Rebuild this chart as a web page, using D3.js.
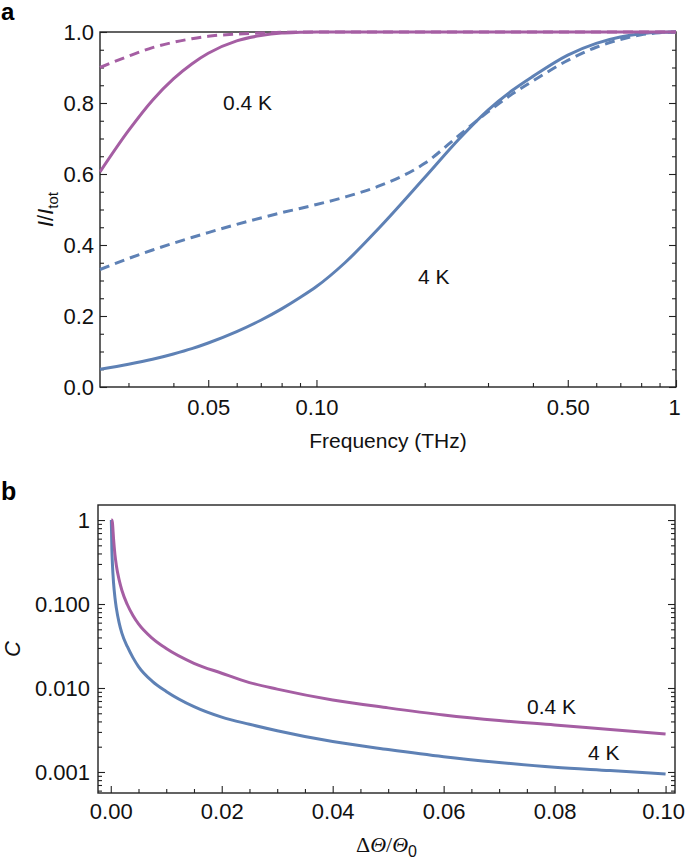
<!DOCTYPE html>
<html>
<head>
<meta charset="utf-8">
<script src="https://cdn.jsdelivr.net/npm/d3@7"></script>
<style>
  body { margin: 0; background: #fff; }
  svg { display: block; font-family: "Liberation Sans", Arial, Helvetica, sans-serif; }
  .tick text { font-size: 22px; fill: #111; }
</style>
</head>
<body>
<svg id="chart" width="685" height="860"></svg>
<script>
// ---------- Panel a data ----------
const freqA      = [0.025, 0.03, 0.035, 0.04, 0.045, 0.05, 0.06, 0.07, 0.08, 0.09, 0.1, 0.12, 0.15, 0.2, 0.25, 0.3, 0.35, 0.4, 0.5, 0.6, 0.7, 0.8, 0.9, 1.0];
const pinkSolid  = [0.606, 0.722, 0.808, 0.868, 0.910, 0.940, 0.975, 0.990, 0.997, 0.999, 1.0, 1.0, 1.0, 1.0, 1.0, 1.0, 1.0, 1.0, 1.0, 1.0, 1.0, 1.0, 1.0, 1.0];
const pinkDashed = [0.900, 0.932, 0.956, 0.971, 0.981, 0.988, 0.994, 0.997, 0.999, 1.0, 1.0, 1.0, 1.0, 1.0, 1.0, 1.0, 1.0, 1.0, 1.0, 1.0, 1.0, 1.0, 1.0, 1.0];
const blueSolid  = [0.050, 0.064, 0.078, 0.093, 0.108, 0.124, 0.156, 0.188, 0.220, 0.252, 0.283, 0.350, 0.450, 0.590, 0.700, 0.780, 0.835, 0.875, 0.935, 0.968, 0.986, 0.995, 0.999, 1.0];
const blueDashed = [0.331, 0.362, 0.386, 0.405, 0.421, 0.435, 0.458, 0.476, 0.491, 0.503, 0.514, 0.535, 0.567, 0.630, 0.710, 0.775, 0.825, 0.862, 0.920, 0.957, 0.979, 0.992, 0.998, 1.0];

const aXMajor = [0.05, 0.1, 0.5, 1];
const aXMajorLabels = ["0.05", "0.10", "0.50", "1"];
const aXMinor = [0.03, 0.04, 0.06, 0.07, 0.08, 0.09, 0.2, 0.3, 0.4, 0.6, 0.7, 0.8, 0.9];
const aYMajor = [0, 0.2, 0.4, 0.6, 0.8, 1.0];
const aYMajorLabels = ["0.0", "0.2", "0.4", "0.6", "0.8", "1.0"];
const aYMinor = [0.05, 0.1, 0.15, 0.25, 0.3, 0.35, 0.45, 0.5, 0.55, 0.65, 0.7, 0.75, 0.85, 0.9, 0.95];

// ---------- Panel b data ----------
const dTheta = [0.0001, 0.0002, 0.0003, 0.0005, 0.00075, 0.001, 0.0015, 0.002, 0.003, 0.004, 0.005, 0.0075, 0.01, 0.015, 0.02, 0.025, 0.03, 0.04, 0.05, 0.06, 0.07, 0.08, 0.09, 0.1];
const c04K = [1.0, 1.0, 0.93, 0.6, 0.39, 0.29, 0.195, 0.146, 0.098, 0.073, 0.058, 0.039, 0.0295, 0.0197, 0.0150, 0.0116, 0.0097, 0.0072, 0.0058, 0.00478, 0.0041, 0.00363, 0.0032, 0.00283];
const c4K  = [1.0, 0.45, 0.30, 0.18, 0.12, 0.09, 0.06, 0.045, 0.031, 0.023, 0.018, 0.012, 0.0091, 0.0060, 0.0045, 0.0037, 0.0031, 0.0023, 0.00185, 0.00152, 0.0013, 0.00114, 0.00104, 0.000946];

const bXMajor = [0, 0.02, 0.04, 0.06, 0.08, 0.1];
const bXMajorLabels = ["0.00", "0.02", "0.04", "0.06", "0.08", "0.10"];
const bXMinor = [0.005, 0.01, 0.015, 0.025, 0.03, 0.035, 0.045, 0.05, 0.055, 0.065, 0.07, 0.075, 0.085, 0.09, 0.095];
const bYMajor = [1, 0.1, 0.01, 0.001];
const bYMajorLabels = ["1", "0.100", "0.010", "0.001"];
const bYMinor = [0.9, 0.8, 0.7, 0.6, 0.5, 0.4, 0.3, 0.2,
                 0.09, 0.08, 0.07, 0.06, 0.05, 0.04, 0.03, 0.02,
                 0.009, 0.008, 0.007, 0.006, 0.005, 0.004, 0.003, 0.002,
                 0.0009, 0.0008, 0.0007, 0.0006];

const PINK = "#a55ea3";
const BLUE = "#5e81b5";
const FRAME = "#222";

const svg = d3.select("#chart");

function drawFrame(g, x0, y0, x1, y1) {
  g.append("rect").attr("x", x0).attr("y", y0).attr("width", x1 - x0).attr("height", y1 - y0)
    .attr("fill", "none").attr("stroke", FRAME).attr("stroke-width", 1.4);
}
function styleAxis(sel) {
  sel.select(".domain").remove();
  sel.selectAll(".tick line").attr("stroke", FRAME).attr("stroke-width", 1.1);
}

// ================= Panel a =================
const A = {left: 100, right: 676, top: 32, bottom: 387};
const xA = d3.scaleLog().domain([0.025, 1]).range([A.left, A.right]);
const yA = d3.scaleLinear().domain([0, 1]).range([A.bottom, A.top]);
const gA = svg.append("g");
drawFrame(gA, A.left, A.top, A.right, A.bottom);

const axA = gA.append("g").attr("transform", `translate(0,${A.bottom})`)
  .call(d3.axisBottom(xA).tickValues(aXMajor).tickFormat((d, i) => aXMajorLabels[i]).tickSize(-7).tickPadding(12))
  .call(styleAxis);
axA.selectAll(".tick text").filter(d => d === 1).attr("dx", -2);
gA.append("g").attr("transform", `translate(0,${A.bottom})`)
  .call(d3.axisBottom(xA).tickValues(aXMinor).tickFormat("").tickSize(-4))
  .call(styleAxis);
gA.append("g").attr("transform", `translate(${A.left},0)`)
  .call(d3.axisLeft(yA).tickValues(aYMajor).tickFormat((d, i) => aYMajorLabels[i]).tickSize(-7).tickPadding(6))
  .call(styleAxis);
gA.append("g").attr("transform", `translate(${A.left},0)`)
  .call(d3.axisLeft(yA).tickValues(aYMinor).tickFormat("").tickSize(-4))
  .call(styleAxis);
gA.append("g").attr("transform", `translate(${A.right},0)`)
  .call(d3.axisRight(yA).tickValues(aYMajor).tickFormat("").tickSize(-7))
  .call(styleAxis);
gA.append("g").attr("transform", `translate(${A.right},0)`)
  .call(d3.axisRight(yA).tickValues(aYMinor).tickFormat("").tickSize(-4))
  .call(styleAxis);

const lineA = (vals) => d3.line().curve(d3.curveMonotoneX)
  .x((d, i) => xA(freqA[i])).y(d => yA(d))(vals);

[[blueSolid, BLUE, null], [blueDashed, BLUE, "10,6"], [pinkSolid, PINK, null], [pinkDashed, PINK, "10,6"]]
  .forEach(([vals, col, dash]) => {
    gA.append("path").attr("d", lineA(vals)).attr("fill", "none")
      .attr("stroke", col).attr("stroke-width", 3)
      .attr("stroke-dasharray", dash);
  });

gA.append("text").attr("x", 223).attr("y", 110).attr("font-size", 21).attr("fill", "#111").text("0.4 K");
gA.append("text").attr("x", 418).attr("y", 284).attr("font-size", 21).attr("fill", "#111").text("4 K");

gA.append("text").attr("x", (A.left + A.right) / 2).attr("y", 448).attr("text-anchor", "middle")
  .attr("font-size", 21).attr("fill", "#111").text("Frequency (THz)");

const yLabA = gA.append("text").attr("transform", `translate(53,${(A.top + A.bottom) / 2}) rotate(-90)`)
  .attr("text-anchor", "middle").attr("font-size", 22).attr("fill", "#111");
yLabA.append("tspan").attr("font-style", "italic").text("I");
yLabA.append("tspan").text("/");
yLabA.append("tspan").attr("font-style", "italic").text("I");
yLabA.append("tspan").attr("font-size", 15).attr("dy", 5).text("tot");

svg.append("text").attr("x", 1).attr("y", 20).attr("font-size", 24).attr("font-weight", "bold").attr("fill", "#000").text("a");

// ================= Panel b =================
const B = {left: 98, right: 675, top: 505, bottom: 793};
const xB = d3.scaleLinear().domain([-0.0023, 0.1017]).range([B.left, B.right]);
const yB = d3.scaleLog().domain([0.000562, 1.51]).range([B.bottom, B.top]);
const gB = svg.append("g");
drawFrame(gB, B.left, B.top, B.right, B.bottom);

const axB = gB.append("g").attr("transform", `translate(0,${B.bottom})`)
  .call(d3.axisBottom(xB).tickValues(bXMajor).tickFormat((d, i) => bXMajorLabels[i]).tickSize(-7).tickPadding(10))
  .call(styleAxis);
axB.selectAll(".tick text").filter(d => d === 0.1).attr("text-anchor", "end").attr("dx", 19);
gB.append("g").attr("transform", `translate(0,${B.bottom})`)
  .call(d3.axisBottom(xB).tickValues(bXMinor).tickFormat("").tickSize(-4))
  .call(styleAxis);
gB.append("g").attr("transform", `translate(${B.left},0)`)
  .call(d3.axisLeft(yB).tickValues(bYMajor).tickFormat((d, i) => bYMajorLabels[i]).tickSize(-7).tickPadding(8))
  .call(styleAxis);
gB.append("g").attr("transform", `translate(${B.left},0)`)
  .call(d3.axisLeft(yB).tickValues(bYMinor).tickFormat("").tickSize(-4))
  .call(styleAxis);
gB.append("g").attr("transform", `translate(${B.right},0)`)
  .call(d3.axisRight(yB).tickValues(bYMajor).tickFormat("").tickSize(-7))
  .call(styleAxis);
gB.append("g").attr("transform", `translate(${B.right},0)`)
  .call(d3.axisRight(yB).tickValues(bYMinor).tickFormat("").tickSize(-4))
  .call(styleAxis);

const lineB = (vals) => d3.line().curve(d3.curveMonotoneX)
  .x((d, i) => xB(dTheta[i])).y(d => yB(d))(vals);

[[c4K, BLUE], [c04K, PINK]].forEach(([vals, col]) => {
  gB.append("path").attr("d", lineB(vals)).attr("fill", "none")
    .attr("stroke", col).attr("stroke-width", 3);
});

gB.append("text").attr("x", 527).attr("y", 714).attr("font-size", 21).attr("fill", "#111").text("0.4 K");
gB.append("text").attr("x", 588).attr("y", 760).attr("font-size", 21).attr("fill", "#111").text("4 K");

const xLabB = gB.append("text").attr("x", (B.left + B.right) / 2).attr("y", 852).attr("text-anchor", "middle")
  .attr("font-size", 22).attr("fill", "#111").attr("font-family", "'Liberation Serif', 'Times New Roman', serif");
xLabB.append("tspan").text("Δ");
xLabB.append("tspan").attr("font-style", "italic").text("Θ");
xLabB.append("tspan").text("/");
xLabB.append("tspan").attr("font-style", "italic").text("Θ");
xLabB.append("tspan").attr("font-size", 16).attr("dy", 5).attr("font-family", "'Liberation Sans', Arial, sans-serif").text("0");

gB.append("text").attr("transform", `translate(20,${(B.top + B.bottom) / 2}) rotate(-90)`)
  .attr("text-anchor", "middle").attr("font-size", 22).attr("font-style", "italic").attr("fill", "#111").text("C");

svg.append("text").attr("x", 1).attr("y", 500).attr("font-size", 25).attr("font-weight", "bold").attr("fill", "#000").text("b");
</script>
</body>
</html>
